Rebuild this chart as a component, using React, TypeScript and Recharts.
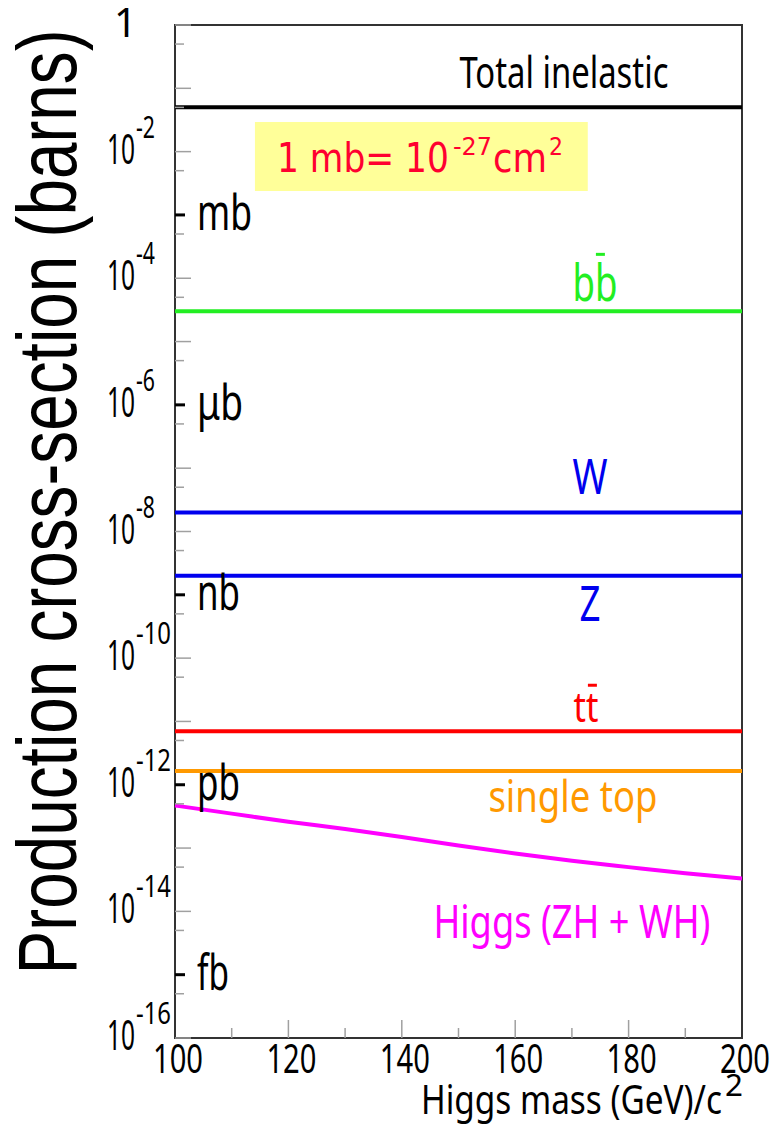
import React from 'react';
import { LineChart, Line, XAxis, YAxis, ReferenceArea, LabelList } from 'recharts';

// ---- data ----
const masses = [100, 110, 120, 130, 140, 150, 160, 170, 180, 190, 200];
const massTicks = [100, 110, 120, 130, 140, 150, 160, 170, 180, 190, 200];
const totalInelastic = 0.05;
const bbbar = 3e-5;
const wBoson = 2e-8;
const zBoson = 2e-9;
const ttbar = 7e-12;
const singleTop = 1.65e-12;
const higgsZHWH = [4.7e-13, 3.5e-13, 2.6e-13, 2.0e-13, 1.5e-13, 1.1e-13, 8.2e-14, 6.3e-14, 5.0e-14, 4.0e-14, 3.3e-14];
const decadeTicks = [1, 1e-1, 1e-2, 1e-3, 1e-4, 1e-5, 1e-6, 1e-7, 1e-8, 1e-9, 1e-10, 1e-11, 1e-12, 1e-13, 1e-14, 1e-15, 1e-16];
const halfTicks = [5e-1, 5e-2, 5e-3, 5e-4, 5e-5, 5e-6, 5e-7, 5e-8, 5e-9, 5e-10, 5e-11, 5e-12, 5e-13, 5e-14, 5e-15, 5e-16];
const unitLabels: Record<number, string> = { 3: 'mb', 6: 'μb', 9: 'nb', 12: 'pb', 15: 'fb' };
const unitWidths: Record<number, number> = { 3: 55, 6: 46, 9: 43, 12: 43, 15: 32 };
const noteBox = { x1: 114.1, x2: 172.8, y1: 0.00239, y2: 0.0294 };

const rows = masses.map((m, i) => ({
  mass: m,
  total: totalInelastic,
  bb: bbbar,
  w: wBoson,
  z: zBoson,
  tt: ttbar,
  st: singleTop,
  higgs: higgsZHWH[i],
}));
const yTicks = [...decadeTicks, ...halfTicks].sort((a, b) => b - a);

const FONT = "'Noto Sans', 'Open Sans', sans-serif";
const LABEL_INDEX = 7;
const Y_AXIS_W = 110;
const X_AXIS_H = 70;

const YTick = (props: any) => {
  const { x, y, payload } = props;
  const v = payload.value;
  const lg = Math.log10(v);
  const e = Math.round(lg);
  const isHalf = Math.abs(lg - e) > 0.1;
  if (isHalf) {
    return <line x1={x} x2={x + 9} y1={y} y2={y} stroke="#a0a0a0" strokeWidth={1.5} />;
  }
  const n = -e;
  const unit = unitLabels[n];
  return (
    <g>
      {unit ? (
        <line x1={x} x2={x + 10} y1={y} y2={y} stroke="#000" strokeWidth={3} />
      ) : (
        <line x1={x} x2={x + 16} y1={y} y2={y} stroke="#a0a0a0" strokeWidth={1.5} />
      )}
      {unit && (
        <text x={x + 22} y={y + 15} fontSize={50} fontFamily={FONT} fill="#000"
          textLength={unitWidths[n]} lengthAdjust="spacingAndGlyphs">{unit}</text>
      )}
      {n === 0 && (
        <text x={x - 38} y={y + 12} textAnchor="end" fontSize={40} fontFamily={FONT} fill="#000">1</text>
      )}
      {n % 2 === 0 && n !== 0 && (
        <g>
          <text x={x - 68} y={y + 12} fontSize={42} fontFamily={FONT} fill="#000"
            textLength={28} lengthAdjust="spacingAndGlyphs">10</text>
          <text x={x - 39} y={y - 14} fontSize={30} fontFamily={FONT} fill="#000"
            textLength={n >= 10 ? 35 : 19} lengthAdjust="spacingAndGlyphs">{`-${n}`}</text>
        </g>
      )}
    </g>
  );
};

const XTick = (props: any) => {
  const { x, y, payload } = props;
  const v = payload.value;
  const major = v % 20 === 0;
  const edge = v === 100 || v === 200;
  return (
    <g>
      {!edge && (
        <line x1={x} x2={x} y1={y} y2={y - (major ? 18 : 10)} stroke="#a0a0a0" strokeWidth={1.5} />
      )}
      {major && (
        <text x={x + 3} y={y + 35} textAnchor="middle" fontSize={40} fontFamily={FONT} fill="#000"
          textLength={50} lengthAdjust="spacingAndGlyphs">{v}</text>
      )}
    </g>
  );
};

const at = (render: (x: number, y: number) => React.ReactNode) => (props: any) => {
  if (props.index !== LABEL_INDEX) return null;
  const px = typeof props.x === 'number' ? props.x : props.viewBox?.x;
  const py = typeof props.y === 'number' ? props.y : props.viewBox?.y;
  return <g>{render(px, py)}</g>;
};

const T = (p: { x: number; y: number; size: number; len: number; color: string; children: React.ReactNode }) => (
  <text x={p.x} y={p.y} textAnchor="middle" fontSize={p.size} fontFamily={FONT} fill={p.color}
    textLength={p.len} lengthAdjust="spacingAndGlyphs">{p.children}</text>
);

const YTitle = (props: any) => {
  const vb = props.viewBox || { x: 65, y: 25, width: Y_AXIS_W, height: 1013 };
  const axisRight = vb.x + (vb.width || 0);
  const cx = axisRight - 99;
  const cy = vb.y + 477;
  return (
    <text transform={`translate(${cx},${cy}) rotate(-90)`} textAnchor="middle" fontSize={84}
      fontFamily="'Liberation Sans', Arial, sans-serif" fill="#000" textLength={945}
      lengthAdjust="spacingAndGlyphs">Production cross-section (barns)</text>
  );
};

const XTitle = (props: any) => {
  const vb = props.viewBox || { x: 175, y: 1038, width: 567 };
  const right = vb.x + vb.width;
  return (
    <g>
      <text x={right - 321} y={vb.y + 76} fontSize={40} fontFamily={FONT} fill="#000"
        textLength={301} lengthAdjust="spacingAndGlyphs">Higgs mass (GeV)/c</text>
      <text x={right - 17} y={vb.y + 58} fontSize={30} fontFamily={FONT} fill="#000"
        textLength={18} lengthAdjust="spacingAndGlyphs">2</text>
    </g>
  );
};

const NoteLabel = (props: any) => {
  const vb = props.viewBox;
  if (!vb) return null;
  const red = '#ff0030';
  const f = "'DejaVu Sans', sans-serif";
  return (
    <g fill={red} fontFamily={f}>
      <text x={vb.x + 22} y={vb.y + 50} fontSize={41} textLength={172} lengthAdjust="spacingAndGlyphs">1 mb= 10</text>
      <text x={vb.x + 198} y={vb.y + 33} fontSize={24} textLength={39} lengthAdjust="spacingAndGlyphs">-27</text>
      <text x={vb.x + 238} y={vb.y + 50} fontSize={41} textLength={54} lengthAdjust="spacingAndGlyphs">cm</text>
      <text x={vb.x + 294} y={vb.y + 33} fontSize={24} textLength={14} lengthAdjust="spacingAndGlyphs">2</text>
    </g>
  );
};

const GREEN = '#22ee22';
const BLUE = '#0000ee';
const RED = '#ff0000';
const ORANGE = '#ff9900';
const MAGENTA = '#ff00ff';

export default function App() {
  return (
    <div style={{ position: 'absolute', left: 0, top: 0, width: 774, height: 1125, background: '#fff' }}>
      <LineChart width={774} height={1125} data={rows}
        margin={{ top: 25, right: 32, bottom: 87 - X_AXIS_H, left: 175 - Y_AXIS_W }}>
        <XAxis dataKey="mass" type="number" domain={[100, 200]} ticks={massTicks} interval={0}
          height={X_AXIS_H} tickSize={0} tickMargin={0} tickLine={false} axisLine={false} tick={<XTick />}
          label={{ content: (p: any) => <XTitle {...p} /> }} />
        <YAxis type="number" scale="log" domain={[1e-16, 1]} allowDataOverflow ticks={yTicks} interval={0}
          width={Y_AXIS_W} tickSize={0} tickMargin={0} tickLine={false} axisLine={false} tick={<YTick />}
          label={{ content: (p: any) => <YTitle {...p} /> }} />
        <ReferenceArea x1={noteBox.x1} x2={noteBox.x2} y1={noteBox.y1} y2={noteBox.y2}
          fill="#ffff99" fillOpacity={1} stroke="none" ifOverflow="visible"
          label={{ content: (p: any) => <NoteLabel {...p} /> }} />
        <Line dataKey="total" stroke="#000" strokeWidth={4} dot={false} activeDot={false} isAnimationActive={false}>
          <LabelList dataKey="total" content={at((x, y) => (
            <T x={x - 8} y={y - 19} size={43} len={209} color="#000">Total inelastic</T>
          ))} />
        </Line>
        <Line dataKey="bb" stroke={GREEN} strokeWidth={4} dot={false} activeDot={false} isAnimationActive={false}>
          <LabelList dataKey="bb" content={at((x, y) => (
            <g>
              <T x={x + 23} y={y - 10} size={51} len={45} color={GREEN}>bb</T>
              <line x1={x + 24} x2={x + 33} y1={y - 57} y2={y - 57} stroke={GREEN} strokeWidth={3} />
            </g>
          ))} />
        </Line>
        <Line dataKey="w" stroke={BLUE} strokeWidth={4} dot={false} activeDot={false} isAnimationActive={false}>
          <LabelList dataKey="w" content={at((x, y) => (
            <T x={x + 18} y={y - 18} size={50} len={35} color={BLUE}>W</T>
          ))} />
        </Line>
        <Line dataKey="z" stroke={BLUE} strokeWidth={4} dot={false} activeDot={false} isAnimationActive={false}>
          <LabelList dataKey="z" content={at((x, y) => (
            <T x={x + 18} y={y + 45} size={50} len={21} color={BLUE}>Z</T>
          ))} />
        </Line>
        <Line dataKey="tt" stroke={RED} strokeWidth={4} dot={false} activeDot={false} isAnimationActive={false}>
          <LabelList dataKey="tt" content={at((x, y) => (
            <g>
              <T x={x + 14} y={y - 9} size={42} len={25} color={RED}>tt</T>
              <line x1={x + 16} x2={x + 25} y1={y - 46} y2={y - 46} stroke={RED} strokeWidth={3} />
            </g>
          ))} />
        </Line>
        <Line dataKey="st" stroke={ORANGE} strokeWidth={4} dot={false} activeDot={false} isAnimationActive={false}>
          <LabelList dataKey="st" content={at((x, y) => (
            <T x={x + 1} y={y + 41} size={43} len={169} color={ORANGE}>single top</T>
          ))} />
        </Line>
        <Line dataKey="higgs" type="monotone" stroke={MAGENTA} strokeWidth={4} dot={false} activeDot={false} isAnimationActive={false}>
          <LabelList dataKey="higgs" content={at((x, y) => (
            <T x={x} y={y + 77} size={46} len={277} color={MAGENTA}>Higgs (ZH + WH)</T>
          ))} />
        </Line>
        <ReferenceArea x1={100} x2={200} y1={1e-16} y2={1} fill="none" stroke="#333" strokeWidth={2}
          ifOverflow="visible" />
      </LineChart>
    </div>
  );
}
